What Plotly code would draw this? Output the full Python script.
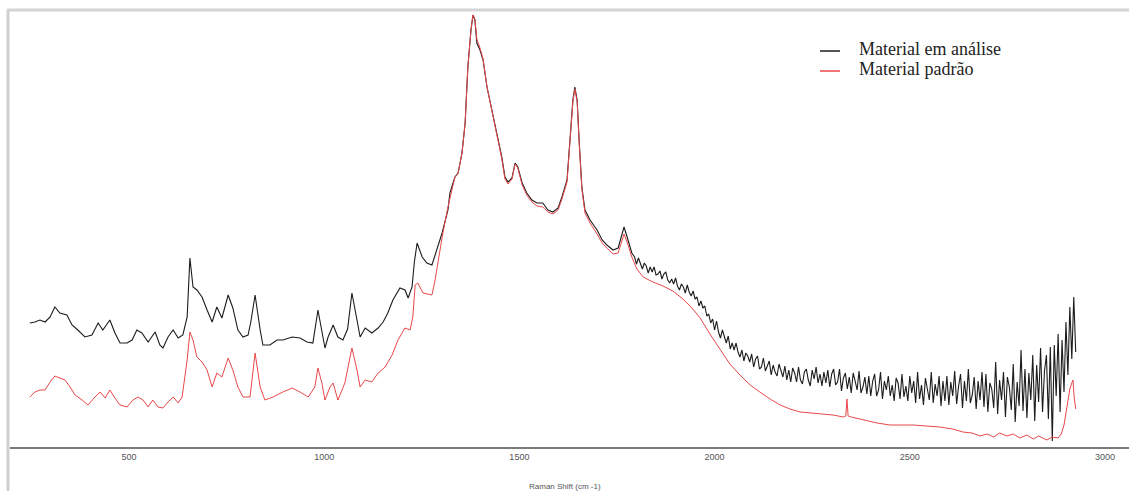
import plotly.graph_objects as go

# ---- Material em análise (black) : smooth part, Raman shift (cm-1) / intensity (a.u.)
black_shift_a = [246, 259, 272, 285, 298, 310, 323, 341, 354, 369, 387, 405, 421, 433, 451, 464, 477, 495,
                 508, 520, 533, 549, 567, 579, 587, 600, 613, 626, 638, 649, 656, 664, 674, 687, 700, 713,
                 725, 738, 754, 766, 779, 792, 805, 812, 823, 830, 836, 843, 861, 879, 894, 918, 938, 956,
                 971, 984, 994, 1002, 1010, 1023, 1035, 1048, 1060, 1071, 1084, 1092, 1105, 1122, 1138,
                 1151, 1163, 1176, 1194, 1207, 1215, 1225, 1231, 1238, 1251, 1263, 1276, 1289, 1302, 1317,
                 1322, 1330, 1335, 1343, 1353, 1361, 1368, 1376, 1381, 1386, 1391, 1399, 1407, 1417, 1430,
                 1443, 1455, 1463, 1471, 1481, 1489, 1496, 1507, 1519, 1532, 1545, 1560, 1573, 1586, 1599,
                 1609, 1622, 1630, 1637, 1642, 1648, 1653, 1660, 1668, 1681, 1699, 1712, 1724, 1740, 1753,
                 1763, 1768, 1776, 1788]
black_int_a = [124, 125, 127, 125, 130, 140, 134, 132, 122, 117, 110, 112, 124, 117, 127, 114, 104, 104,
               107, 117, 114, 105, 115, 102, 99, 110, 117, 109, 112, 130, 189, 160, 157, 150, 137, 125,
               140, 129, 152, 139, 117, 110, 112, 125, 152, 130, 117, 102, 102, 107, 107, 110, 109, 105,
               104, 137, 117, 99, 110, 122, 110, 107, 118, 154, 127, 110, 119, 114, 119,
               125, 134, 147, 159, 157, 149, 160, 185, 204, 190, 184, 182, 197, 214, 237,
               254, 264, 270, 274, 294, 324, 380, 417, 432, 427, 404, 397, 387, 360, 337,
               314, 290, 270, 265, 269, 284, 280, 264, 254, 247, 244, 244, 237, 235, 239,
               250, 267, 307, 347, 360, 347, 307, 260, 237, 227, 217, 207, 202, 197, 199,
               214, 220, 210, 194]

# ---- Material em análise (black) : noisy tail sampled every 5 cm-1 from 1795 to 2925
black_shift_b = list(range(1795, 2926, 5))
black_int_b = [
    190, 183, 189, 183, 178, 184, 181, 174, 180, 175, 180, 172, 173, 176, 168, 173, 175, 167, 164, 168,
    163, 169, 161, 157, 163, 160, 154, 162, 155, 151, 156, 148, 150, 141, 146, 139, 141, 131, 133, 124,
    128, 117, 126, 115, 109, 117, 111, 104, 111, 98, 104, 97, 104, 95, 90, 97, 86, 94, 91, 85,
    93, 80, 88, 91, 78, 80, 89, 76, 81, 86, 72, 82, 75, 71, 83, 77, 70, 81, 67, 77,
    65, 79, 74, 65, 80, 67, 63, 75, 78, 67, 61, 77, 68, 80, 64, 73, 61, 75, 64, 77,
    60, 73, 78, 62, 65, 78, 56, 69, 74, 58, 70, 54, 74, 66, 57, 76, 54, 60, 70, 53,
    71, 51, 66, 73, 51, 57, 75, 48, 66, 57, 71, 51, 62, 46, 69, 64, 48, 73, 50, 61,
    46, 71, 54, 66, 44, 75, 48, 62, 42, 69, 59, 47, 75, 44, 63, 51, 71, 41, 66, 46,
    71, 42, 65, 51, 76, 43, 61, 73, 39, 66, 46, 78, 44, 52, 70, 38, 66, 47, 75, 40,
    73, 35, 64, 58, 39, 85, 33, 67, 47, 75, 30, 70, 60, 37, 83, 25, 65, 41, 97, 36,
    78, 29, 74, 47, 92, 26, 82, 45, 99, 35, 76, 92, 28, 100, 6, 102, 51, 113, 35, 107,
    55, 125, 72, 140, 88, 150, 95,
]

# ---- Material padrão (red)
red_shift = [246, 259, 272, 285, 298, 310, 323, 336, 349, 362, 380, 395, 413, 426, 439, 451, 464, 477,
             495, 510, 523, 536, 549, 561, 574, 587, 600, 613, 626, 636, 649, 656, 664, 674, 687, 700,
             713, 725, 738, 754, 766, 779, 792, 810, 823, 836, 848, 869, 894, 918, 938, 959, 976, 984,
             994, 1002, 1015, 1023, 1035, 1053, 1071, 1084, 1092, 1105, 1122, 1138, 1156, 1174, 1189,
             1207, 1220, 1227, 1233, 1240, 1253, 1276, 1284, 1297, 1304, 1317, 1330, 1335, 1343, 1353,
             1361, 1368, 1376, 1381, 1386, 1391, 1399, 1407, 1417, 1430, 1443, 1455, 1463, 1471, 1481,
             1489, 1496, 1507, 1519, 1532, 1545, 1560, 1573, 1586, 1599, 1609, 1622, 1630, 1637, 1642,
             1648, 1653, 1660, 1668, 1681, 1699, 1712, 1724, 1740, 1753, 1763, 1768, 1776, 1788, 1801,
             1817, 1842, 1868, 1893, 1919, 1942, 1963, 1988, 2014, 2039, 2065, 2091, 2116, 2142, 2168,
             2193, 2219, 2252, 2303, 2330, 2336, 2339, 2342, 2350, 2380, 2416, 2449, 2508, 2577, 2610,
             2636, 2660, 2680, 2698, 2715, 2730, 2749, 2765, 2782, 2800, 2816, 2830, 2851, 2865, 2880,
             2888, 2895, 2902, 2910, 2915, 2918, 2921, 2925]
red_int = [50, 55, 57, 57, 65, 71, 69, 67, 60, 52, 47, 42, 50, 55, 49, 57, 49, 42,
           40, 47, 50, 47, 40, 47, 40, 39, 45, 50, 44, 50, 87, 115, 107, 90, 85, 77,
           60, 74, 70, 89, 77, 60, 50, 50, 94, 60, 47, 50, 55, 59, 55, 50, 60, 79,
           64, 47, 60, 64, 47, 64, 99, 77, 60, 67, 65, 74, 80, 92, 107,
           119, 117, 130, 162, 164, 154, 152, 167, 200, 214, 240, 264, 270, 274, 294,
           324, 380, 417, 432, 428, 408, 399, 388, 360, 336, 313, 288, 268, 263, 268,
           283, 279, 262, 252, 245, 241, 240, 235, 233, 237, 248, 265, 305, 345, 358,
           345, 305, 258, 234, 224, 213, 204, 199, 193, 194, 206, 213, 205, 190, 178,
           170, 165, 161, 156, 148, 139, 129, 113, 97, 83, 72, 62, 55, 48, 42,
           38, 35, 34, 32, 30, 31, 48, 31, 30, 27, 24, 22, 22, 20, 18,
           15, 14, 11, 13, 10, 14, 11, 13, 9, 12, 8, 11, 7, 10, 9,
           13, 22, 40, 58, 64, 67, 50, 38]

tick_values = [500, 1000, 1500, 2000, 2500, 3000]
x_title = "Raman Shift (cm -1)"
series_names = ["Material em análise", "Material padrão"]
series_colors = ["#1c1c1c", "#e8484a"]

fig = go.Figure()
fig.add_trace(go.Scatter(x=black_shift_a + black_shift_b, y=black_int_a + black_int_b,
                         mode="lines", line=dict(color=series_colors[0], width=1.1),
                         name=series_names[0], showlegend=False))
fig.add_trace(go.Scatter(x=red_shift, y=red_int, mode="lines",
                         line=dict(color=series_colors[1], width=1),
                         name=series_names[1], showlegend=False))

W, H = 1129, 491
L, R, T, B = 10, 0, 10, 44
pw, ph = W - L - R, H - T - B


def px(xp):
    return (xp - L) / pw


def py(yp):
    return (H - B - yp) / ph


shapes = [
    # window frame (left and top)
    dict(type="line", xref="paper", yref="paper", x0=px(8), x1=px(8), y0=py(491), y1=py(10),
         line=dict(color="#cfcfcf", width=3)),
    dict(type="line", xref="paper", yref="paper", x0=px(7), x1=1, y0=py(10), y1=py(10),
         line=dict(color="#d4d4d4", width=3)),
]
annotations = [
    dict(text=x_title, xref="paper", yref="paper", x=px(565), y=py(487), xanchor="center",
         yanchor="middle", showarrow=False, font=dict(family="Liberation Sans", size=8, color="#555")),
]
for i, (name, col) in enumerate(zip(series_names, series_colors)):
    ty = 49 + 20 * i
    shapes.append(dict(type="line", xref="paper", yref="paper", x0=px(820), x1=px(840),
                       y0=py(ty + 2), y1=py(ty + 2), line=dict(color=col, width=1.5)))
    annotations.append(dict(text=name, xref="paper", yref="paper", x=px(857), y=py(ty),
                            xanchor="left", yanchor="middle", showarrow=False,
                            font=dict(family="Liberation Serif", size=18, color="#222")))

fig.update_layout(
    width=W, height=H, autosize=False,
    margin=dict(l=L, r=R, t=T, b=B, pad=0),
    paper_bgcolor="white", plot_bgcolor="white",
    xaxis=dict(range=[195.2, 3061.5], showline=True, linecolor="#7a7a7a", linewidth=2,
               showgrid=False, zeroline=False, ticks="", tickvals=tick_values,
               tickfont=dict(family="Liberation Sans", size=9, color="#555")),
    yaxis=dict(range=[0, 437], visible=False),
    shapes=shapes, annotations=annotations,
)

fig.write_html("out.html")
